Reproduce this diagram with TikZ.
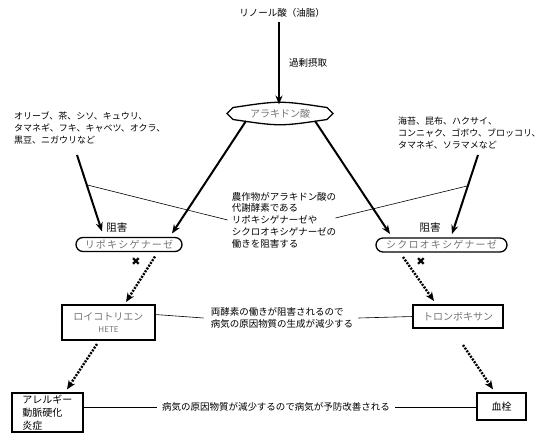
\documentclass[tikz,border=0pt]{standalone}
\usepackage{fontspec}
\setmainfont{Noto Sans CJK JP}
\newfontfamily\symfont{DejaVu Sans}
\usetikzlibrary{arrows.meta,calc}
\newcommand{\jfont}[1]{\fontsize{#1}{11.8}\selectfont}
\newcommand{\graytext}[1]{{\color{black!55}#1}}
\begin{document}
\begin{tikzpicture}
[x=1pt,y=-1pt,
 textnote/.style={font=\jfont{9.5},align=left,inner sep=1pt},
 textgray/.style={inner sep=0pt,outer sep=0pt,font=\jfont{10}},
 boxline/.style={draw=black,line width=1.3pt},
 markcross/.style={font=\symfont\fontsize{11}{11}\selectfont,inner sep=0pt},
 arrowsolid/.style={line width=2pt,-{Stealth[length=9pt,width=7pt]}},
 arrowdotted/.style={line width=2.4pt,dash pattern=on 2pt off 1.3pt,-{Stealth[length=9pt,width=7.5pt]}},
 linethin/.style={line width=0.6pt}]
\useasboundingbox (0,0) rectangle (550,445);
%% linoleic acid and arachidonic acid
\node[textnote] (lino) at (282,13) {リノール酸（油脂）};
\node[textnote] (kajo) at (308,63) {過剰摂取};
\node[textgray,minimum width=106pt,minimum height=12pt] (ara) at (280,113.5) {\graytext{アラキドン酸}};
\draw[boxline] (ara.west) -- ($(ara.north west)+(6,0)$) .. controls ($(ara.north)+(0,-7)$) .. ($(ara.north east)+(-6,0)$)
  -- (ara.east) -- ($(ara.south east)+(-6,0)$) .. controls ($(ara.south)+(0,7)$) .. ($(ara.south west)+(6,0)$) -- cycle;
\draw[arrowsolid] ($(lino.south)+(-3,3)$) -- ($(ara.north)+(-1,-3)$);
%% vegetables that block the enzymes
\node[textnote,font=\jfont{9},anchor=north west] (vegL) at (13,111) {オリーブ、茶、シソ、キュウリ、\\タマネギ、フキ、キャベツ、オクラ、\\黒豆、ニガウリなど};
\node[textnote,font=\jfont{9},anchor=north west] (vegR) at (397,116) {海苔、昆布、ハクサイ、\\コンニャク、ゴボウ、ブロッコリ、\\タマネギ、ソラマメなど};
\node[textnote] (ctr) at (284,220) {農作物がアラキドン酸の\\代謝酵素である\\リポキシゲナーゼや\\シクロオキシゲナーゼの\\働きを阻害する};
\coordinate (vegLtail) at (77,155);
\coordinate (vegRtail) at (478,155);
%% enzymes
\node[textgray,font=\jfont{10}\addfontfeature{LetterSpace=12},minimum width=106pt,minimum height=14pt] (lipo) at (129,244.5) {\graytext{リポキシゲナーゼ}};
\node[textgray,font=\jfont{10}\addfontfeature{LetterSpace=12},minimum width=131pt,minimum height=14pt] (cyclo) at (441.5,245) {\graytext{シクロオキシゲナーゼ}};
\draw[boxline,rounded corners=7pt] (lipo.north west) rectangle (lipo.south east);
\draw[boxline,rounded corners=7pt] (cyclo.north west) rectangle (cyclo.south east);
\node[textnote,font=\jfont{10.5}] (sogaiL) at (117,228) {阻害};
\node[textnote,font=\jfont{10.5}] (sogaiR) at (430,228) {阻害};
\node[markcross] (batsuL) at (136,262) {✖};
\node[markcross] (batsuR) at (421,262) {✖};
\draw[arrowsolid] ($(ara.south west)+(19,1.5)$) -- ($(lipo.north east)+(-10,-4)$);
\draw[arrowsolid] ($(ara.south east)+(-18,1.5)$) -- ($(cyclo.north west)+(14,-4)$);
\draw[arrowsolid] (vegLtail) -- coordinate[pos=0.39] (hitL) ($(lipo.north west)+(26,-6)$);
\draw[arrowsolid] (vegRtail) -- coordinate[pos=0.39] (hitR) ($(cyclo.north east)+(-55,-4)$);
\draw[linethin] (hitL) -- ($(ctr.west)+(-3,0)$);
\draw[linethin] ($(ctr.east)+(-2,-2)$) -- (hitR);
%% products
\node[textgray,minimum width=93pt,minimum height=35pt,align=center] (leuko) at (108.5,322.5) {\graytext{ロイコトリエン}\\\graytext{\jfont{8}HETE}};
\node[textgray,minimum width=90pt,minimum height=23pt] (thrombo) at (458,316.5) {\graytext{トロンボキサン}};
\draw[boxline] (leuko.north west) rectangle (leuko.south east);
\draw[boxline] (thrombo.north west) rectangle (thrombo.south east);
\node[textnote] (mid) at (282,318) {両酵素の働きが阻害されるので\\病気の原因物質の生成が減少する};
\draw[arrowdotted] ($(lipo.south east)+(-27,5)$) -- ($(leuko.north)+(17.5,-3)$);
\draw[arrowdotted] ($(cyclo.south west)+(27,5)$) -- ($(thrombo.north)+(-24,-4)$);
\draw[linethin] ($(leuko.east)+(0,-8)$) -- ($(mid.west)+(-6,0)$);
\draw[linethin] ($(mid.east)+(4,0)$) -- (thrombo.west);
%% diseases
\node[boxline,inner sep=0pt,minimum width=71pt,minimum height=39pt,align=left,font=\fontsize{10}{13}\selectfont] (allergy) at (47.5,412.5) {アレルギー\\動脈硬化\\炎症};
\node[boxline,inner sep=0pt,minimum width=49pt,minimum height=27pt,font=\jfont{10}] (kessen) at (501.5,406.5) {血栓};
\node[textnote,inner sep=5pt] (btm) at (276,407) {病気の原因物質が減少するので病気が予防改善される};
\draw[arrowdotted] ($(leuko.south)+(-11.5,4)$) -- ($(allergy.north)+(19.5,-3)$);
\draw[arrowdotted] ($(thrombo.south)+(5,17)$) -- ($(kessen.north)+(-8.5,-3)$);
\draw[linethin,line width=0.8pt] (allergy.east |- btm.west) -- (btm.west);
\draw[linethin,line width=0.8pt] (btm.east) -- (kessen.west |- btm.east);
\end{tikzpicture}
\end{document}
